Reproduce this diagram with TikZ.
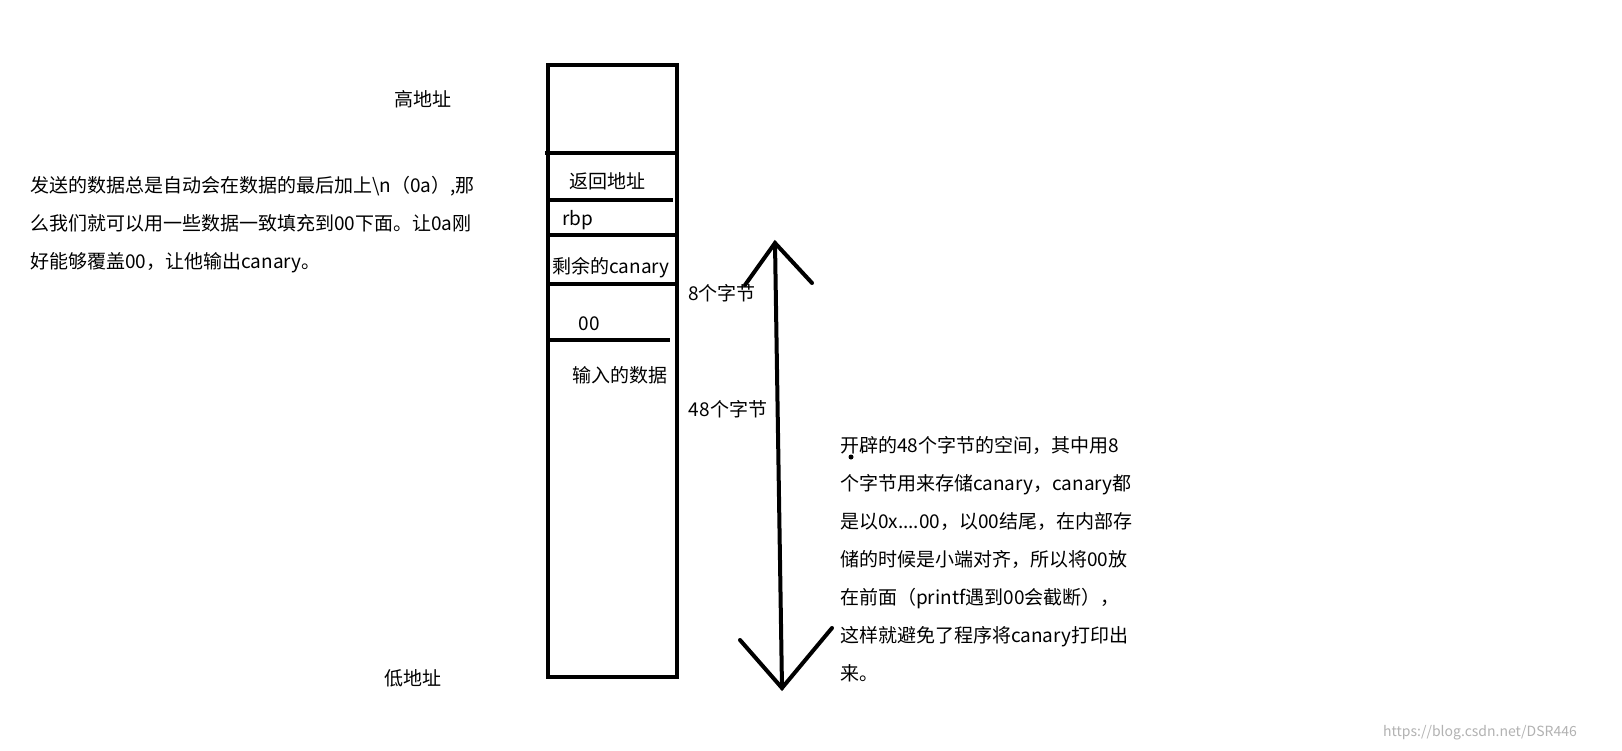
\documentclass[tikz,border=0pt]{standalone}
\usepackage{fontspec}
\setmainfont{Noto Sans CJK SC}
\begin{document}
\begin{tikzpicture}[x=1pt,y=-1pt,
  t/.style={font=\fontsize{19}{23}\selectfont,inner sep=0pt},
  thick4/.style={line width=4pt},
  para/.style={t,align=left,anchor=north west,font=\fontsize{19}{38}\selectfont}]
\useasboundingbox[fill=white] (0,0) rectangle (1622,750);
\draw[thick4] (548,65) rectangle (677,677);
\draw[thick4] (545,153) -- (677,153);
\draw[thick4] (548,200) -- (673,200);
\draw[thick4] (548,235) -- (677,235);
\draw[thick4] (550,284) -- (675,284);
\draw[thick4] (548,340) -- (670,340);
\node[t] (hi) at (423,99) {高地址};
\node[t] (lo) at (413,678) {低地址};
\node[t] (ret) at (607,181) {返回地址};
\node[t] (rbp) at (578,220) {rbp};
\node[t] (can) at (611,268) {剩余的canary};
\node[t] (z) at (589,324) {00};
\node[t] (in) at (620,375) {输入的数据};
\node[t] (b8) at (722,293) {8个字节};
\node[t] (b48) at (728,409) {48个字节};
\coordinate (top) at (775,243);
\coordinate (bot) at (782,688);
\draw[thick4,line cap=round] (top) -- (bot);
\draw[thick4,line cap=round] (745,285) -- (top) -- (812,283);
\draw[thick4,line cap=round] (740,640) -- (bot) -- (832,628);
\node[para] (left) at (30,176) {发送的数据总是自动会在数据的最后加上\textbackslash n（0a）,那\\么我们就可以用一些数据一致填充到00下面。让0a刚\\好能够覆盖00，让他输出canary。};
\node[para] (right) at (840,436) {开辟的48个字节的空间，其中用8\\个字节用来存储canary，canary都\\是以0x....00，以00结尾，在内部存\\储的时候是小端对齐，所以将00放\\在前面（printf遇到00会截断），\\这样就避免了程序将canary打印出\\来。};
\fill (851,457) circle (2.5);
\node[t,font=\fontsize{14}{16}\selectfont,text=gray!60] (wm) at (1480,733) {https://blog.csdn.net/DSR446};
\end{tikzpicture}
\end{document}
